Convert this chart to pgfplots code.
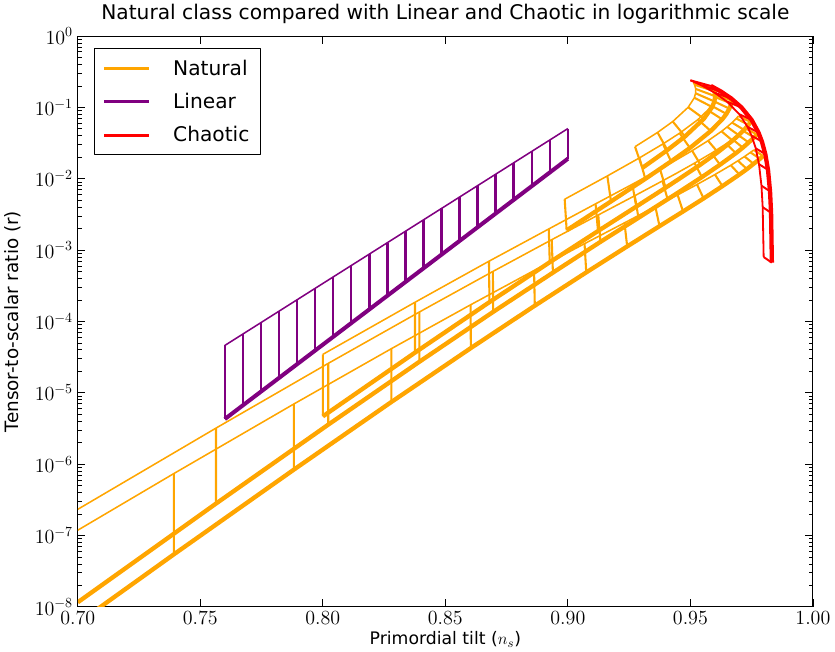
\documentclass[border=0pt]{standalone}
\usepackage{pgfplots}
\pgfplotsset{compat=1.18}
\usepackage{fontspec}
\setmainfont{DejaVu Sans}
\definecolor{natorange}{RGB}{255,165,0}
\definecolor{linpurple}{RGB}{128,0,128}
\definecolor{chaored}{RGB}{255,0,0}
\begin{document}
\begin{tikzpicture}
\begin{axis}[
  width=528pt, height=410pt, scale only axis,
  xmin=0.70, xmax=1.00, ymin=1e-8, ymax=1,
  ymode=log,
  xtick={0.70,0.75,0.80,0.85,0.90,0.95,1.00},
  ytick={1e-8,1e-7,1e-6,1e-5,1e-4,1e-3,1e-2,1e-1,1},
  xticklabel style={/pgf/number format/.cd, fixed, fixed zerofill, precision=2},
  tick align=inside,
  major tick length=5.5pt, minor tick length=2.8pt,
  every tick/.style={black, line width=0.6pt},
  axis line style={line width=0.8pt},
  ticklabel style={font=\fontsize{14}{16}\selectfont},
  title={Natural class compared with Linear and Chaotic in logarithmic scale},
  title style={font=\fontsize{14.5}{17}\selectfont, yshift=-1pt},
  xlabel={Primordial tilt ($n_s$)},
  ylabel={Tensor-to-scalar ratio (r)},
  xlabel style={font=\fontsize{12.4}{15}\selectfont, yshift=2pt},
  ylabel style={font=\fontsize{13.2}{16}\selectfont, yshift=3pt},
  unbounded coords=jump,
  legend style={at={(0.022,0.979)}, anchor=north west, draw=black,
    line width=0.8pt, font=\fontsize{14.5}{17}\selectfont,
    row sep=7.4pt, inner xsep=6pt, inner ysep=6pt},
  legend cell align=left,
  legend image code/.code={\draw[#1, line width=2.2pt] (0pt,0pt) -- (32pt,0pt); \path (47pt,0pt);},
  line join=round,
]
\addlegendimage{natorange}\addlegendentry{Natural}
\addlegendimage{linpurple}\addlegendentry{Linear}
\addlegendimage{chaored}\addlegendentry{Chaotic}

% ---------------- Natural class, p = 1/3 ----------------
\addplot[natorange, line width=1.1pt, forget plot] coordinates {
(0.6788,4.421e-8) (0.7392,7.391e-7) (0.7882,6.984e-6) (0.8280,4.163e-5)
(0.8603,1.713e-4) (0.8862,5.182e-4) (0.9068,1.2312e-3) (0.9231,2.4113e-3)
(0.9357,4.066e-3) (0.9448,5.936e-3) (0.9527,8.313e-3) (0.9600,1.145e-2)
(0.9665,1.548e-2) (0.9694,1.787e-2) (0.9721,2.051e-2) (0.9745,2.343e-2)
(0.9759,2.530e-2)};
\addplot[natorange, line width=3.1pt, forget plot] coordinates {
(0.6788,1.780e-9) (0.7392,5.446e-8) (0.7882,8.399e-7) (0.8280,7.454e-6)
(0.8604,4.238e-5) (0.8865,1.6635e-4) (0.9075,4.872e-4) (0.9242,1.127e-3)
(0.9374,2.166e-3) (0.9470,3.479e-3) (0.9554,5.300e-3) (0.9631,7.900e-3)
(0.9700,1.147e-2) (0.9731,1.368e-2) (0.9758,1.619e-2) (0.9784,1.902e-2)
(0.9797,2.088e-2)};
\addplot[natorange, line width=1.5pt, forget plot] coordinates {
(0.7392,7.391e-7) (0.7392,5.446e-8) (0.7392,nan)
(0.7882,6.984e-6) (0.7882,8.399e-7) (0.7882,nan)
(0.8280,4.163e-5) (0.8280,7.454e-6) (0.8280,nan)
(0.8603,1.713e-4) (0.8604,4.238e-5) (0.8604,nan)
(0.8862,5.182e-4) (0.8865,1.6635e-4) (0.8865,nan)
(0.9068,1.2312e-3) (0.9075,4.872e-4) (0.9075,nan)
(0.9231,2.4113e-3) (0.9242,1.127e-3) (0.9242,nan)
(0.9357,4.066e-3) (0.9374,2.166e-3) (0.9374,nan)
(0.9448,5.936e-3) (0.9470,3.479e-3) (0.9470,nan)
(0.9527,8.313e-3) (0.9554,5.300e-3) (0.9554,nan)
(0.9600,1.145e-2) (0.9631,7.900e-3) (0.9631,nan)
(0.9665,1.548e-2) (0.9700,1.147e-2) (0.9700,nan)
(0.9694,1.787e-2) (0.9731,1.368e-2) (0.9731,nan)
(0.9721,2.051e-2) (0.9758,1.619e-2) (0.9758,nan)
(0.9745,2.343e-2) (0.9784,1.902e-2) (0.9784,nan)
(0.9759,2.530e-2) (0.9797,2.088e-2)};

% ---------------- Natural class, p = 2/3 ----------------
\addplot[natorange, line width=1.1pt, forget plot] coordinates {
(0.7000,2.331e-7) (0.7564,3.204e-6) (0.8022,2.588e-5) (0.8394,1.358e-4)
(0.8694,5.023e-4) (0.8934,1.399e-3) (0.9124,3.110e-3) (0.9273,5.786e-3)
(0.9386,9.338e-3) (0.9441,1.182e-2) (0.9517,1.656e-2) (0.9586,2.283e-2)
(0.9646,3.088e-2) (0.9672,3.565e-2) (0.9695,4.093e-2) (0.9716,4.677e-2)
(0.9727,5.051e-2)};
\addplot[natorange, line width=3.1pt, forget plot] coordinates {
(0.7000,1.160e-8) (0.7564,2.804e-7) (0.8022,3.580e-6) (0.8394,2.725e-5)
(0.8695,1.362e-4) (0.8939,4.836e-4) (0.9133,1.306e-3) (0.9288,2.835e-3)
(0.9407,5.159e-3) (0.9465,6.927e-3) (0.9547,1.056e-2) (0.9621,1.575e-2)
(0.9686,2.288e-2) (0.9714,2.729e-2) (0.9738,3.232e-2) (0.9760,3.799e-2)
(0.9772,4.170e-2)};
\addplot[natorange, line width=1.5pt, forget plot] coordinates {
(0.7564,3.204e-6) (0.7564,2.804e-7) (0.7564,nan)
(0.8022,2.588e-5) (0.8022,3.580e-6) (0.8022,nan)
(0.8394,1.358e-4) (0.8394,2.725e-5) (0.8394,nan)
(0.8694,5.023e-4) (0.8695,1.362e-4) (0.8695,nan)
(0.8934,1.399e-3) (0.8939,4.836e-4) (0.8939,nan)
(0.9124,3.110e-3) (0.9133,1.306e-3) (0.9133,nan)
(0.9273,5.786e-3) (0.9288,2.835e-3) (0.9288,nan)
(0.9386,9.338e-3) (0.9407,5.159e-3) (0.9407,nan)
(0.9517,1.656e-2) (0.9547,1.056e-2) (0.9547,nan)
(0.9586,2.283e-2) (0.9621,1.575e-2) (0.9621,nan)
(0.9646,3.088e-2) (0.9686,2.288e-2) (0.9686,nan)
(0.9672,3.565e-2) (0.9714,2.729e-2) (0.9714,nan)
(0.9695,4.093e-2) (0.9738,3.232e-2) (0.9738,nan)
(0.9716,4.677e-2) (0.9760,3.799e-2) (0.9760,nan)
(0.9727,5.051e-2) (0.9772,4.170e-2)};

% ---------------- Natural class, p = 1 ----------------
\addplot[natorange, line width=1.1pt, forget plot] coordinates {
(0.8000,3.459e-5) (0.8376,1.858e-4) (0.8678,6.993e-4) (0.8922,1.980e-3)
(0.9113,4.452e-3) (0.9263,8.373e-3) (0.9376,1.364e-2) (0.9434,1.765e-2)
(0.9507,2.475e-2) (0.9572,3.413e-2) (0.9627,4.620e-2) (0.9650,5.334e-2)
(0.9670,6.126e-2) (0.9687,7.002e-2) (0.9696,7.564e-2)};
\addplot[natorange, line width=3.1pt, forget plot] coordinates {
(0.8000,4.678e-6) (0.8376,3.661e-5) (0.8680,1.868e-4) (0.8926,6.765e-4)
(0.9123,1.852e-3) (0.9279,4.072e-3) (0.9399,7.497e-3) (0.9461,1.034e-2)
(0.9541,1.579e-2) (0.9612,2.355e-2) (0.9672,3.424e-2) (0.9697,4.085e-2)
(0.9719,4.838e-2) (0.9737,5.689e-2) (0.9746,6.246e-2)};
\addplot[natorange, line width=1.5pt, forget plot] coordinates {
(0.8000,3.459e-5) (0.8000,4.678e-6) (0.8000,nan)
(0.8376,1.858e-4) (0.8376,3.661e-5) (0.8376,nan)
(0.8678,6.993e-4) (0.8680,1.868e-4) (0.8680,nan)
(0.8922,1.980e-3) (0.8926,6.765e-4) (0.8926,nan)
(0.9113,4.452e-3) (0.9123,1.852e-3) (0.9123,nan)
(0.9263,8.373e-3) (0.9279,4.072e-3) (0.9279,nan)
(0.9376,1.364e-2) (0.9399,7.497e-3) (0.9399,nan)
(0.9507,2.475e-2) (0.9541,1.579e-2) (0.9541,nan)
(0.9572,3.413e-2) (0.9612,2.355e-2) (0.9612,nan)
(0.9627,4.620e-2) (0.9672,3.424e-2) (0.9672,nan)
(0.9650,5.334e-2) (0.9697,4.085e-2) (0.9697,nan)
(0.9670,6.126e-2) (0.9719,4.838e-2) (0.9719,nan)
(0.9687,7.002e-2) (0.9737,5.689e-2) (0.9737,nan)
(0.9696,7.564e-2) (0.9746,6.246e-2)};

% ---------------- Natural class, p = 2 ----------------
\addplot[natorange, line width=1.1pt, forget plot] coordinates {
(0.8987,5.168e-3) (0.9161,1.095e-2) (0.9292,1.962e-2) (0.9388,3.079e-2)
(0.9456,4.354e-2) (0.9531,6.760e-2) (0.9571,9.168e-2) (0.9585,1.059e-1)
(0.9596,1.218e-1) (0.9602,1.393e-1) (0.9604,1.505e-1)};
\addplot[natorange, line width=3.1pt, forget plot] coordinates {
(0.8995,1.894e-3) (0.9176,4.816e-3) (0.9316,9.973e-3) (0.9421,1.751e-2)
(0.9498,2.699e-2) (0.9583,4.669e-2) (0.9630,6.799e-2) (0.9647,8.120e-2)
(0.9659,9.623e-2) (0.9667,1.132e-1) (0.9669,1.244e-1)};
\addplot[natorange, line width=1.5pt, forget plot] coordinates {
(0.8987,5.168e-3) (0.8995,1.894e-3) (0.8995,nan)
(0.9161,1.095e-2) (0.9176,4.816e-3) (0.9176,nan)
(0.9292,1.962e-2) (0.9316,9.973e-3) (0.9316,nan)
(0.9388,3.079e-2) (0.9421,1.751e-2) (0.9421,nan)
(0.9456,4.354e-2) (0.9498,2.699e-2) (0.9498,nan)
(0.9531,6.760e-2) (0.9583,4.669e-2) (0.9583,nan)
(0.9571,9.168e-2) (0.9630,6.799e-2) (0.9630,nan)
(0.9585,1.059e-1) (0.9647,8.120e-2) (0.9647,nan)
(0.9596,1.218e-1) (0.9659,9.623e-2) (0.9659,nan)
(0.9602,1.393e-1) (0.9667,1.132e-1) (0.9667,nan)
(0.9604,1.505e-1) (0.9669,1.244e-1)};

% ---------------- Natural class, p = 3 ----------------
\addplot[natorange, line width=1.1pt, forget plot] coordinates {
(0.9274,2.815e-2) (0.9366,4.459e-2) (0.9428,6.344e-2) (0.9491,1.005e-1)
(0.9516,1.365e-1) (0.9521,1.578e-1) (0.9522,1.815e-1) (0.9517,2.077e-1)
(0.9512,2.245e-1)};
\addplot[natorange, line width=3.1pt, forget plot] coordinates {
(0.9304,1.421e-2) (0.9406,2.523e-2) (0.9478,3.918e-2) (0.9555,6.944e-2)
(0.9589,1.013e-1) (0.9598,1.211e-1) (0.9601,1.436e-1) (0.9598,1.690e-1)
(0.9593,1.857e-1)};
\addplot[natorange, line width=1.5pt, forget plot] coordinates {
(0.9274,2.815e-2) (0.9304,1.421e-2) (0.9304,nan)
(0.9366,4.459e-2) (0.9406,2.523e-2) (0.9406,nan)
(0.9428,6.344e-2) (0.9478,3.918e-2) (0.9478,nan)
(0.9491,1.005e-1) (0.9555,6.944e-2) (0.9555,nan)
(0.9516,1.365e-1) (0.9589,1.013e-1) (0.9589,nan)
(0.9521,1.578e-1) (0.9598,1.211e-1) (0.9598,nan)
(0.9522,1.815e-1) (0.9601,1.436e-1) (0.9601,nan)
(0.9517,2.077e-1) (0.9598,1.690e-1) (0.9598,nan)
(0.9512,2.245e-1) (0.9593,1.857e-1)};

% ---------------- Linear class ----------------
\addplot[linpurple, line width=1.1pt, forget plot] coordinates {
(0.76000,4.613e-5) (0.90000,5.053e-2)};
\addplot[linpurple, line width=2.9pt, forget plot] coordinates {
(0.76000,4.292e-6) (0.90000,1.909e-2)};
\addplot[linpurple, line width=1.8pt, forget plot] coordinates {
(0.76000,4.613e-5) (0.76000,4.292e-6) (0.76000,nan)
(0.76737,6.668e-5) (0.76737,6.679e-6) (0.76737,nan)
(0.77474,9.638e-5) (0.77474,1.039e-5) (0.77474,nan)
(0.78211,1.393e-4) (0.78211,1.617e-5) (0.78211,nan)
(0.78947,2.013e-4) (0.78947,2.516e-5) (0.78947,nan)
(0.79684,2.910e-4) (0.79684,3.915e-5) (0.79684,nan)
(0.80421,4.206e-4) (0.80421,6.091e-5) (0.80421,nan)
(0.81158,6.079e-4) (0.81158,9.478e-5) (0.81158,nan)
(0.81895,8.786e-4) (0.81895,1.475e-4) (0.81895,nan)
(0.82632,1.270e-3) (0.82632,2.295e-4) (0.82632,nan)
(0.83368,1.835e-3) (0.83368,3.571e-4) (0.83368,nan)
(0.84105,2.653e-3) (0.84105,5.555e-4) (0.84105,nan)
(0.84842,3.835e-3) (0.84842,8.642e-4) (0.84842,nan)
(0.85579,5.542e-3) (0.85579,1.345e-3) (0.85579,nan)
(0.86316,8.011e-3) (0.86316,2.093e-3) (0.86316,nan)
(0.87053,1.158e-2) (0.87053,3.256e-3) (0.87053,nan)
(0.87789,1.674e-2) (0.87789,5.066e-3) (0.87789,nan)
(0.88526,2.419e-2) (0.88526,7.883e-3) (0.88526,nan)
(0.89263,3.496e-2) (0.89263,1.227e-2) (0.89263,nan)
(0.90000,5.053e-2) (0.90000,1.909e-2)};

% ---------------- Chaotic class ----------------
\addplot[chaored, line width=1.3pt, forget plot] coordinates {
(0.95000,0.24) (0.95500,0.20) (0.96000,0.16) (0.96500,0.12) (0.97000,0.08)
(0.97333,0.05333) (0.97500,0.04) (0.97667,0.02667) (0.97800,0.016)
(0.97900,0.008) (0.97950,0.004) (0.97990,0.0008)};
\addplot[chaored, line width=3.1pt, forget plot] coordinates {
(0.95833,0.2) (0.96250,0.16667) (0.96667,0.13333) (0.97083,0.1) (0.97500,0.06667)
(0.97778,0.04444) (0.97917,0.03333) (0.98056,0.02222) (0.98167,0.01333)
(0.98250,0.006667) (0.98292,0.003333) (0.98325,0.000667)};
\addplot[chaored, line width=1.4pt, forget plot] coordinates {
(0.95000,0.24) (0.95833,0.2) (0.95833,nan)
(0.95500,0.20) (0.96250,0.16667) (0.96250,nan)
(0.96000,0.16) (0.96667,0.13333) (0.96667,nan)
(0.96500,0.12) (0.97083,0.1) (0.97083,nan)
(0.97000,0.08) (0.97500,0.06667) (0.97500,nan)
(0.97333,0.05333) (0.97778,0.04444) (0.97778,nan)
(0.97500,0.04) (0.97917,0.03333) (0.97917,nan)
(0.97667,0.02667) (0.98056,0.02222) (0.98056,nan)
(0.97800,0.016) (0.98167,0.01333) (0.98167,nan)
(0.97900,0.008) (0.98250,0.006667) (0.98250,nan)
(0.97950,0.004) (0.98292,0.003333) (0.98292,nan)
(0.97990,0.0008) (0.98325,0.000667)};
\end{axis}
\end{tikzpicture}
\end{document}
